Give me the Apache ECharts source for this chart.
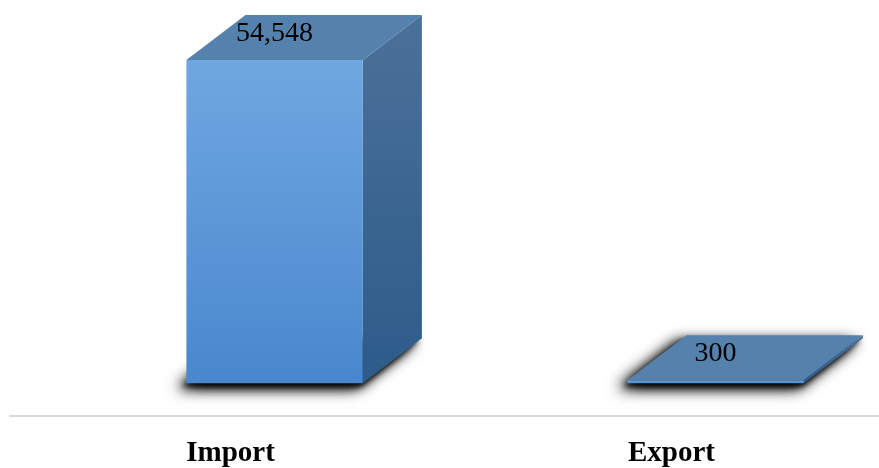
<!DOCTYPE html>
<html>
<head>
<meta charset="utf-8">
<script src="https://cdn.jsdelivr.net/npm/echarts@6/dist/echarts.min.js"></script>
<style>html,body{margin:0;padding:0;background:#fff;overflow:hidden;}#c{width:892px;height:468px;}</style>
</head>
<body>
<div id="c"></div>
<script>
const categories = ['Import', 'Export'];
const values = [54548, 300];
const valueLabels = ['54,548', '300'];

const chart = echarts.init(document.getElementById('c'), null, {renderer: 'canvas'});

function renderItem(params, api) {
  const idx = api.value(0);
  const val = api.value(1);
  const base = api.coord([idx, 0]);
  const top = api.coord([idx, val]);
  const band = api.size([1, 0])[0];
  const cx = base[0];
  const fl = cx - 0.1 * band;
  const w = 0.4 * band;
  const fr = fl + w;
  const dx = 0.134 * band;
  const dy = 45;
  const y0 = base[1];
  const y1 = Math.min(top[1], y0 - 3);
  const children = [];
  // soft shadow (shape kept off-canvas, only its shadow is cast into view)
  const off = 1000;
  const shadowPts = [[fl - 2, y0 + 1 - off], [fr, y0 + 1 - off], [fr + dx, y0 - dy - off], [fl + dx - 2, y0 - dy - off]];
  [[16, -8, 4, 0.9], [12, -5, 3, 0.9], [5, -2, 2, 0.8]].forEach(function (s) {
    children.push({
      type: 'polygon',
      shape: {points: shadowPts},
      style: {fill: '#000', shadowBlur: s[0], shadowColor: 'rgba(0,0,0,' + s[3] + ')', shadowOffsetX: s[1], shadowOffsetY: off + s[2]}
    });
  });
  // side face
  children.push({
    type: 'polygon',
    shape: {points: [[fr, y1], [fr + dx, y1 - dy], [fr + dx, y0 - dy], [fr, y0]]},
    style: {fill: new echarts.graphic.LinearGradient(0, 0, 0, 1, [
      {offset: 0, color: '#4b7199'}, {offset: 1, color: '#2d5b8a'}])}
  });
  // front face
  children.push({
    type: 'rect',
    shape: {x: fl, y: y1, width: w, height: y0 - y1},
    style: {fill: new echarts.graphic.LinearGradient(0, 0, 0, 1, [
      {offset: 0, color: '#6fa7e0'}, {offset: 1, color: '#4987ce'}])}
  });
  // top face
  children.push({
    type: 'polygon',
    shape: {points: [[fl, y1], [fr, y1], [fr + dx, y1 - dy], [fl + dx, y1 - dy]]},
    style: {fill: '#5581ad'}
  });
  // value label
  children.push({
    type: 'text',
    style: {
      text: valueLabels[idx],
      x: fl + w / 2,
      y: y1 - dy / 2 - 4,
      align: 'center', verticalAlign: 'middle',
      font: '28px "Liberation Serif", "Times New Roman", serif',
      fill: '#000'
    }
  });
  return {type: 'group', children: children};
}

chart.setOption({
  animation: false,
  grid: {left: 10, right: 0, top: 60, bottom: 50, containLabel: false},
  xAxis: {
    type: 'category',
    data: categories,
    axisLine: {show: true, onZero: false, lineStyle: {color: '#d9d9d9', width: 2}},
    axisTick: {show: false},
    axisLabel: {
      margin: 23, color: '#000', fontWeight: 'bold', fontSize: 29,
      fontFamily: '"Liberation Serif", "Times New Roman", serif'
    }
  },
  yAxis: {
    type: 'value', min: -5540, max: 54548,
    show: false, splitLine: {show: false}
  },
  series: [{
    type: 'custom',
    clip: false,
    renderItem: renderItem,
    data: categories.map((c, i) => [i, values[i]])
  }]
});
</script>
</body>
</html>
